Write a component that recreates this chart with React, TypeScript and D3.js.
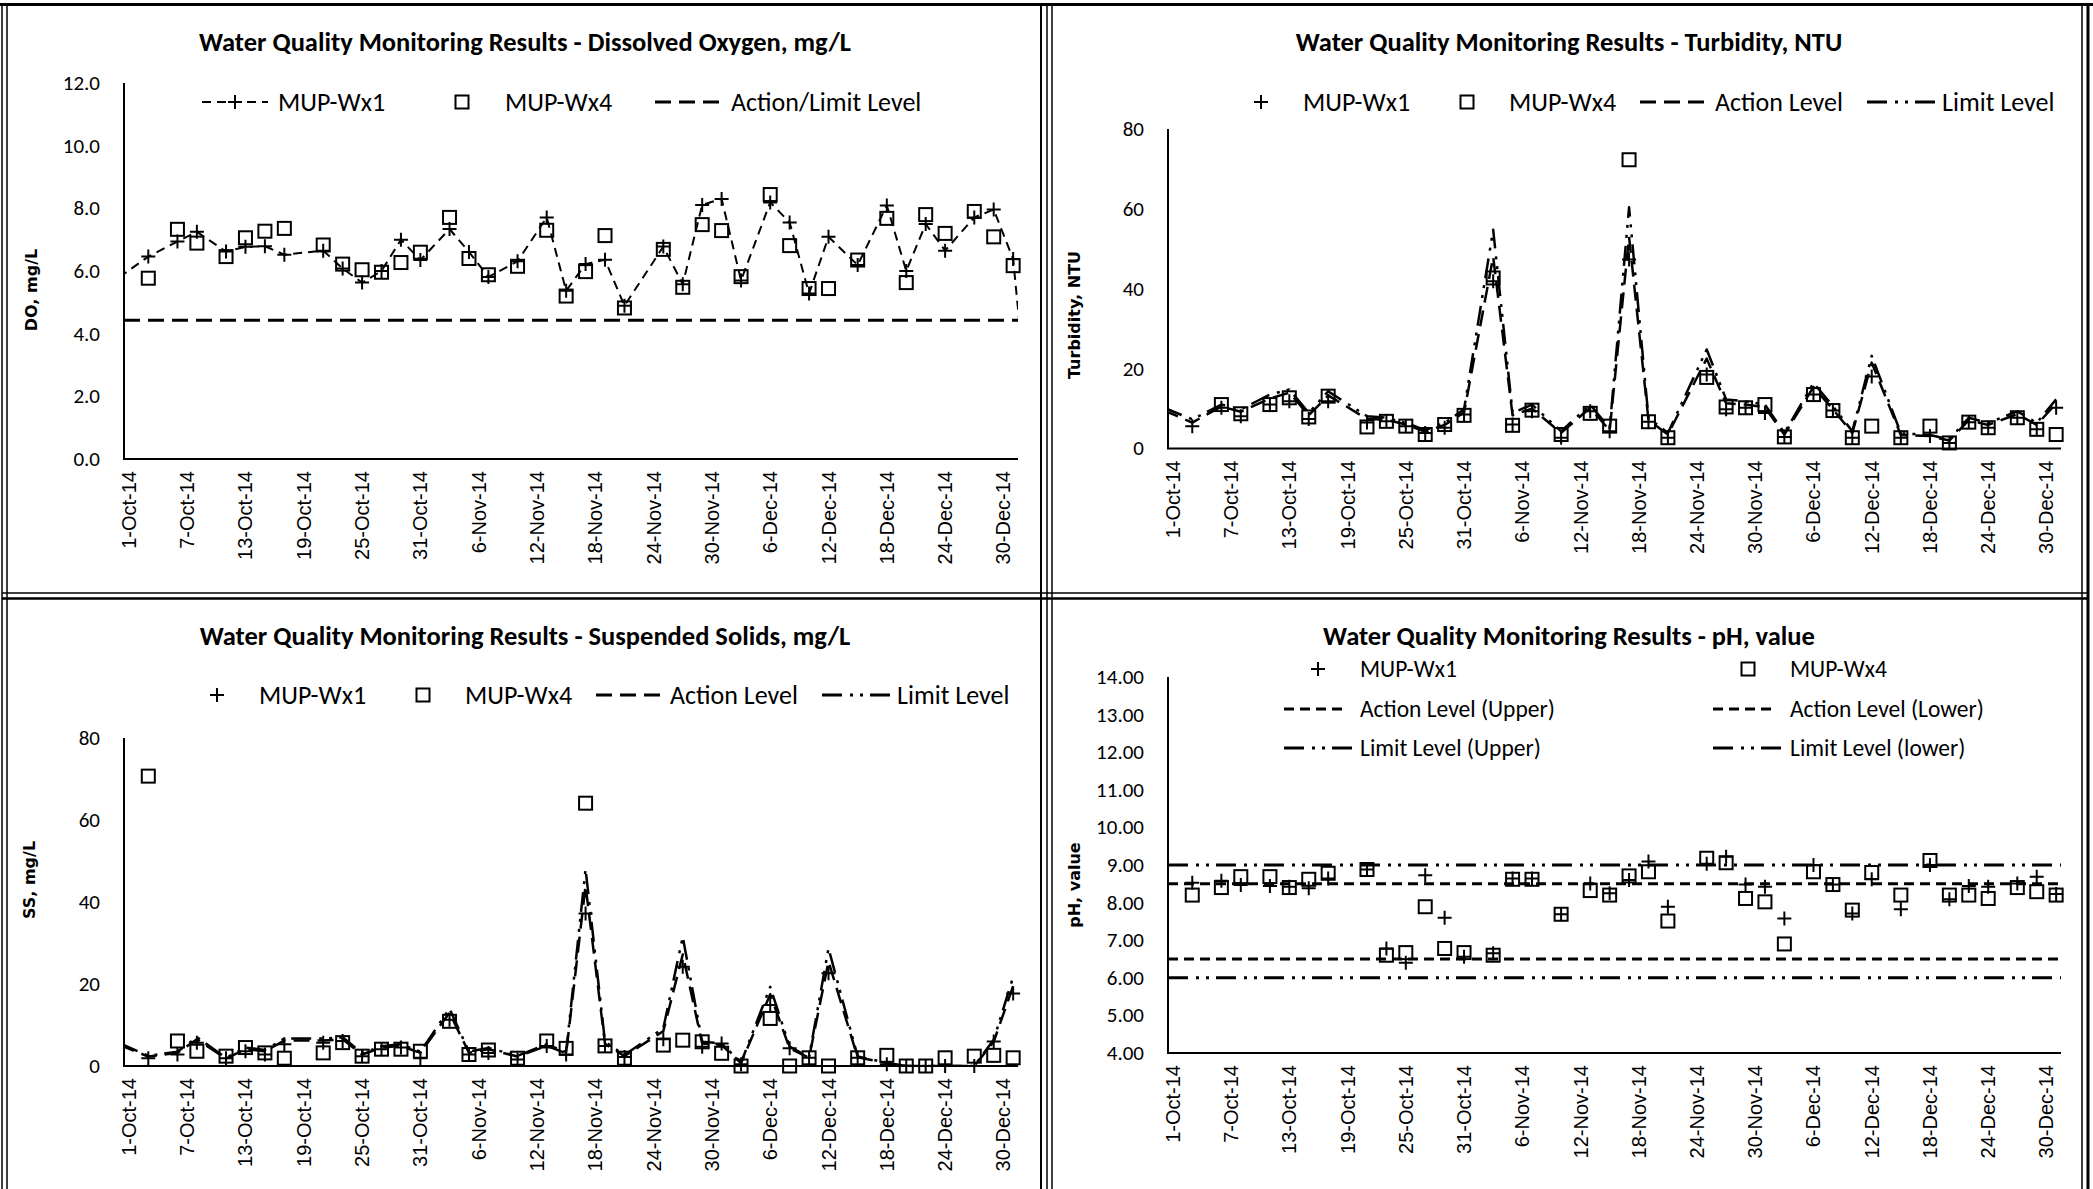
import React from 'react';
import * as d3 from 'd3';

// sampling days, three times a week, Oct - Dec 2014
const sampleDates = [
  '2014-10-03', '2014-10-06', '2014-10-08', '2014-10-11', '2014-10-13', '2014-10-15', '2014-10-17',
  '2014-10-21', '2014-10-23', '2014-10-25', '2014-10-27', '2014-10-29', '2014-10-31',
  '2014-11-03', '2014-11-05', '2014-11-07', '2014-11-10', '2014-11-13', '2014-11-15', '2014-11-17',
  '2014-11-19', '2014-11-21', '2014-11-25', '2014-11-27', '2014-11-29',
  '2014-12-01', '2014-12-03', '2014-12-06', '2014-12-08', '2014-12-10', '2014-12-12', '2014-12-15',
  '2014-12-18', '2014-12-20', '2014-12-22', '2014-12-24', '2014-12-27', '2014-12-29', '2014-12-31'
];
// the level series and the DO line also hold readings just outside the axis range
const levelDates = ['2014-09-30', ...sampleDates];
const doLineDates = ['2014-09-30', ...sampleDates, '2015-01-01'];

const xTickLabels = [
  '1-Oct-14', '7-Oct-14', '13-Oct-14', '19-Oct-14', '25-Oct-14', '31-Oct-14', '6-Nov-14', '12-Nov-14',
  '18-Nov-14', '24-Nov-14', '30-Nov-14', '6-Dec-14', '12-Dec-14', '18-Dec-14', '24-Dec-14', '30-Dec-14'
];

// Dissolved oxygen, mg/L
const doTicks = ['0.0', '2.0', '4.0', '6.0', '8.0', '10.0', '12.0'];
const doWx1 = [5.8,
  6.46, 6.94, 7.25, 6.62, 6.77, 6.79, 6.52, 6.65, 6.08, 5.63, 6.0, 7.0, 6.35,
  7.34, 6.61, 5.81, 6.31, 7.71, 5.37, 6.22, 6.36, 4.89, 6.78, 5.58, 8.11,
  8.3, 5.7, 8.19, 7.55, 5.28, 7.09, 6.19, 8.09, 6.0, 7.5, 6.65, 7.71, 7.96, 6.38,
  3.2];
const doWx4 = [
  5.77, 7.33, 6.89, 6.46, 7.06, 7.27, 7.36, 6.83, 6.22, 6.04, 5.96, 6.27, 6.6,
  7.71, 6.4, 5.88, 6.15, 7.3, 5.2, 5.98, 7.13, 4.82, 6.69, 5.48, 7.48,
  7.29, 5.82, 8.44, 6.81, 5.44, 5.44, 6.35, 7.68, 5.63, 7.8, 7.2, 7.9, 7.09, 6.17];
const doActionLimit = 4.43;

// Turbidity, NTU
const turbTicks = ['0', '20', '40', '60', '80'];
const turbWx1 = [
  5.6, 10.2, 8.1, 11.0, 11.8, 7.4, 11.8, 6.5, 6.8, 5.6, 3.9, 5.2, 8.5,
  41.9, 6.0, 9.3, 2.7, 9.3, 4.3, 47.3, 6.7, 2.7, 18.5, 9.8, 10.2,
  8.9, 2.9, 13.5, 9.5, 2.7, 18.0, 2.7, 3.1, 1.4, 6.6, 5.2, 7.7, 4.8, 10.2];
const turbWx4 = [
  null, 11.0, 8.7, 11.0, 12.7, 7.9, 13.1, 5.4, 6.8, 5.6, 3.5, 6.0, 8.3,
  42.7, 5.8, 9.6, 3.5, 8.8, 5.6, 72.3, 6.7, 2.7, 17.8, 10.4, 10.2,
  11.0, 2.9, 13.5, 9.5, 2.7, 5.6, 2.7, 5.6, 1.4, 6.6, 5.2, 7.7, 4.8, 3.5];
const turbAction = [9.6,
  6.5, 10.5, 9.2, 12.5, 14.0, 8.3, 13.3, 7.4, 7.2, 6.0, 4.2, 5.9, 9.0,
  48.0, 8.3, 10.0, 3.9, 10.2, 4.5, 53.0, 7.1, 3.5, 22.5, 11.3, 11.0,
  10.3, 3.5, 15.4, 9.8, 3.9, 21.5, 3.4, 3.1, 2.0, 7.1, 5.9, 8.6, 5.9, 11.3];
const turbLimit = [10.3,
  7.3, 11.0, 9.8, 13.5, 14.8, 8.9, 14.3, 8.1, 7.7, 6.4, 4.6, 6.4, 9.8,
  54.8, 8.9, 11.0, 4.3, 11.0, 5.0, 60.4, 7.7, 3.9, 24.8, 12.3, 11.8,
  11.0, 3.9, 16.4, 10.6, 4.3, 23.2, 3.8, 3.4, 2.3, 7.7, 6.4, 9.3, 6.4, 12.3];

// Suspended solids, mg/L
const ssTicks = ['0', '20', '40', '60', '80'];
const ssWx1 = [
  1.9, 2.8, 5.7, 1.9, 3.6, 2.8, 5.3, 5.7, 6.1, 2.4, 4.1, 4.5, 1.9,
  11.3, 2.8, 3.2, 1.6, 4.9, 2.8, 37.2, 4.9, 2.2, 6.5, 24.2, 4.7,
  5.5, 0.4, 14.9, 4.3, 2.0, 22.6, 2.0, 0.4, 0, 0, 0, 0, 6.0, 17.7];
const ssWx4 = [
  70.7, 6.1, 3.6, 2.4, 4.5, 3.2, 1.9, 3.2, 5.7, 2.4, 4.1, 4.1, 3.6,
  10.9, 2.8, 3.9, 1.9, 6.1, 4.3, 64.1, 4.9, 1.9, 5.1, 6.3, 5.9,
  3.1, 0, 11.6, 0, 2.0, 0, 2.0, 2.6, 0, 0, 2.0, 2.4, 2.6, 2.0];
const ssAction = [5.2,
  2.3, 3.2, 6.5, 1.8, 4.1, 3.6, 6.2, 6.2, 6.5, 2.8, 4.5, 4.9, 3.2,
  13.0, 3.2, 4.1, 2.3, 4.9, 3.1, 44.0, 5.4, 2.4, 8.5, 27.2, 5.5,
  5.1, 0.7, 17.5, 4.3, 2.0, 25.5, 2.1, 0.7, 0, 0, 0, 0, 5.9, 19.5];
const ssLimit = [5.6,
  2.5, 3.5, 7.0, 2.0, 4.5, 3.9, 6.7, 6.7, 7.0, 3.1, 4.8, 5.3, 3.5,
  14.0, 3.5, 4.4, 2.5, 5.3, 3.4, 48.0, 5.9, 2.7, 9.2, 31.5, 5.9,
  5.5, 0.8, 19.3, 4.7, 2.2, 28.7, 2.3, 0.8, 0, 0, 0, 0, 6.4, 21.7];

// pH
const phTicks = ['4.00', '5.00', '6.00', '7.00', '8.00', '9.00', '10.00', '11.00', '12.00', '13.00', '14.00'];
const phWx1 = [
  8.53, 8.58, 8.47, 8.44, 8.42, 8.38, 8.64, 8.88, 6.78, 6.4, 8.73, 7.6, 6.56,
  6.65, 8.64, 8.64, 7.69, 8.51, 8.25, 8.6, 9.09, 7.89, 9.03, 9.22, 8.48,
  8.42, 7.58, 9.0, 8.48, 7.71, 8.62, 7.82, 9.0, 8.09, 8.44, 8.42, 8.51, 8.69, 8.23];
const phWx4 = [
  8.2, 8.4, 8.69, 8.69, 8.4, 8.62, 8.78, 8.88, 6.6, 6.67, 7.89, 6.78, 6.67,
  6.6, 8.62, 8.62, 7.69, 8.32, 8.2, 8.71, 8.82, 7.51, 9.18, 9.06, 8.11,
  8.02, 6.9, 8.82, 8.48, 7.8, 8.8, 8.2, 9.12, 8.2, 8.2, 8.11, 8.4, 8.29, 8.2];
const phActionUpper = 8.5;
const phActionLower = 6.5;
const phLimitUpper = 9.0;
const phLimitLower = 6.0;

const MAIN_FONT = 'Carlito, Calibri, Lato, sans-serif';
const DATE_FONT = '"Liberation Sans", Arial, sans-serif';
const AXIS_TITLE_FONT = 'Verdana, "DejaVu Sans", sans-serif';

const DASH_SHORT = '9,6';
const DASH_LONG = '16,8';
const DASH_PH = '10,6';
const DASH_DOT_DOT = '20,8,3,7,3,7';

const parseDay = d3.timeParse('%Y-%m-%d');
const parseTick = d3.timeParse('%d-%b-%y');
const axisStart = parseDay('2014-10-01') as Date;
const axisEnd = parseDay('2015-01-01') as Date;
const noon = (d: Date) => d3.timeHour.offset(d, 12);

type Series = {
  dates: string[];
  values: (number | null)[];
  marker?: 'plus' | 'square';
  dash?: string;
  width?: number;
};
type Level = { value: number; dash: string; width: number };
type LegendItem = {
  kind: 'plus' | 'square' | 'line' | 'linePlus';
  label: string;
  y: number;
  textX: number;
  cx?: number;
  x1?: number;
  x2?: number;
  dash?: string;
  width?: number;
};
type PanelCfg = {
  id: string;
  title: string;
  titleX: number;
  titleY: number;
  yTitle: string;
  yTitleX: number;
  yTitleY: number;
  left: number;
  right: number;
  top: number;
  bottom: number;
  yDomain: [number, number];
  yTicks: string[];
  series: Series[];
  levels: Level[];
  legend: LegendItem[];
  legendSize: number;
};

function Marker({ kind, x, y }: { kind: 'plus' | 'square'; x: number; y: number }) {
  if (kind === 'plus') {
    return <path d={`M${x - 7},${y}H${x + 7}M${x},${y - 7}V${y + 7}`} stroke="#000" strokeWidth={2} fill="none" />;
  }
  return <rect x={x - 6.5} y={y - 6.5} width={13} height={13} fill="none" stroke="#000" strokeWidth={2} />;
}

function Panel({ c }: { c: PanelCfg }) {
  const x = d3.scaleTime().domain([axisStart, axisEnd]).range([c.left, c.right]);
  const y = d3.scaleLinear().domain(c.yDomain).range([c.bottom, c.top]);
  const line = d3.line<{ d: Date; v: number | null }>()
    .defined(p => p.v != null)
    .x(p => x(noon(p.d)))
    .y(p => y(p.v as number));
  const clipId = `clip-${c.id}`;

  return (
    <g>
      <defs>
        <clipPath id={clipId}>
          <rect x={c.left} y={c.top - 40} width={c.right - c.left} height={c.bottom - c.top + 40} />
        </clipPath>
      </defs>

      <text x={c.titleX} y={c.titleY} textAnchor="middle" fontFamily={MAIN_FONT} fontWeight="bold" fontSize={26.5}>
        {c.title}
      </text>

      <text
        transform={`translate(${c.yTitleX},${c.yTitleY}) rotate(-90)`}
        textAnchor="middle"
        dy="0.36em"
        fontFamily={AXIS_TITLE_FONT}
        fontWeight="bold"
        fontSize={16}
      >
        {c.yTitle}
      </text>

      {c.yTicks.map(t => (
        <text key={t} x={c.left - 24} y={y(+t)} dy="0.33em" textAnchor="end" fontFamily={MAIN_FONT} fontSize={21}>
          {t}
        </text>
      ))}

      {xTickLabels.map(t => {
        const px = x(noon(parseTick(t) as Date));
        return (
          <text
            key={t}
            transform={`translate(${px + 7},${c.bottom + 12}) rotate(-90)`}
            textAnchor="end"
            fontFamily={DATE_FONT}
            fontSize={20}
          >
            {t}
          </text>
        );
      })}

      <g clipPath={`url(#${clipId})`}>
        {c.levels.map((l, i) => (
          <line key={i} x1={c.left} x2={c.right} y1={y(l.value)} y2={y(l.value)}
            stroke="#000" strokeWidth={l.width} strokeDasharray={l.dash} />
        ))}
        {c.series.filter(s => s.dash).map((s, i) => (
          <path
            key={i}
            d={line(s.dates.map((d, j) => ({ d: parseDay(d) as Date, v: s.values[j] }))) || ''}
            fill="none"
            stroke="#000"
            strokeWidth={s.width}
            strokeDasharray={s.dash}
            strokeLinejoin="round"
          />
        ))}
      </g>

      {c.series.filter(s => s.marker).map((s, i) => (
        <g key={i}>
          {s.dates.map((ds, j) => {
            const d = parseDay(ds) as Date;
            const v = s.values[j];
            if (v == null || d < axisStart || d >= axisEnd) return null;
            return <Marker key={ds} kind={s.marker as 'plus' | 'square'} x={x(noon(d))} y={y(v)} />;
          })}
        </g>
      ))}

      <line x1={c.left} x2={c.left} y1={c.top} y2={c.bottom} stroke="#000" strokeWidth={2} />
      <line x1={c.left - 1} x2={c.right} y1={c.bottom} y2={c.bottom} stroke="#000" strokeWidth={2} />

      {c.legend.map((it, i) => (
        <g key={i}>
          {(it.kind === 'line' || it.kind === 'linePlus') && (
            <line x1={it.x1} x2={it.x2} y1={it.y} y2={it.y} stroke="#000" strokeWidth={it.width} strokeDasharray={it.dash} />
          )}
          {(it.kind === 'plus' || it.kind === 'linePlus') && <Marker kind="plus" x={it.cx as number} y={it.y} />}
          {it.kind === 'square' && <Marker kind="square" x={it.cx as number} y={it.y} />}
          <text x={it.textX} y={it.y} dy="0.33em" fontFamily={MAIN_FONT} fontSize={c.legendSize}>
            {it.label}
          </text>
        </g>
      ))}
    </g>
  );
}

const panels: PanelCfg[] = [
  {
    id: 'do',
    title: 'Water Quality Monitoring Results - Dissolved Oxygen, mg/L',
    titleX: 525, titleY: 51,
    yTitle: 'DO, mg/L', yTitleX: 31, yTitleY: 290,
    left: 124, right: 1018, top: 83, bottom: 459,
    yDomain: [0, 12], yTicks: doTicks,
    series: [
      { dates: doLineDates, values: doWx1, marker: 'plus', dash: DASH_SHORT, width: 2 },
      { dates: sampleDates, values: doWx4, marker: 'square' }
    ],
    levels: [{ value: doActionLimit, dash: DASH_LONG, width: 3 }],
    legendSize: 26,
    legend: [
      { kind: 'linePlus', label: 'MUP-Wx1', y: 102, x1: 202, x2: 268, cx: 235, textX: 278, dash: DASH_SHORT, width: 2 },
      { kind: 'square', label: 'MUP-Wx4', y: 102, cx: 462, textX: 505 },
      { kind: 'line', label: 'Action/Limit Level', y: 102, x1: 655, x2: 725, textX: 731, dash: DASH_LONG, width: 3 }
    ]
  },
  {
    id: 'turb',
    title: 'Water Quality Monitoring Results - Turbidity, NTU',
    titleX: 1569, titleY: 51,
    yTitle: 'Turbidity, NTU', yTitleX: 1074, yTitleY: 315,
    left: 1168, right: 2061, top: 129, bottom: 448.5,
    yDomain: [0, 80], yTicks: turbTicks,
    series: [
      { dates: sampleDates, values: turbWx1, marker: 'plus' },
      { dates: sampleDates, values: turbWx4, marker: 'square' },
      { dates: levelDates, values: turbAction, dash: DASH_LONG, width: 2.5 },
      { dates: levelDates, values: turbLimit, dash: DASH_DOT_DOT, width: 2.5 }
    ],
    levels: [],
    legendSize: 26,
    legend: [
      { kind: 'plus', label: 'MUP-Wx1', y: 102, cx: 1261, textX: 1303 },
      { kind: 'square', label: 'MUP-Wx4', y: 102, cx: 1467, textX: 1509 },
      { kind: 'line', label: 'Action Level', y: 102, x1: 1640, x2: 1710, textX: 1715, dash: DASH_LONG, width: 3 },
      { kind: 'line', label: 'Limit Level', y: 102, x1: 1867, x2: 1935, textX: 1942, dash: DASH_DOT_DOT, width: 3 }
    ]
  },
  {
    id: 'ss',
    title: 'Water Quality Monitoring Results - Suspended Solids, mg/L',
    titleX: 525, titleY: 645,
    yTitle: 'SS, mg/L', yTitleX: 29, yTitleY: 880,
    left: 124, right: 1018, top: 738, bottom: 1066,
    yDomain: [0, 80], yTicks: ssTicks,
    series: [
      { dates: sampleDates, values: ssWx1, marker: 'plus' },
      { dates: sampleDates, values: ssWx4, marker: 'square' },
      { dates: levelDates, values: ssAction, dash: DASH_LONG, width: 2.5 },
      { dates: levelDates, values: ssLimit, dash: DASH_DOT_DOT, width: 2.5 }
    ],
    levels: [],
    legendSize: 26,
    legend: [
      { kind: 'plus', label: 'MUP-Wx1', y: 695, cx: 217, textX: 259 },
      { kind: 'square', label: 'MUP-Wx4', y: 695, cx: 423, textX: 465 },
      { kind: 'line', label: 'Action Level', y: 695, x1: 596, x2: 663, textX: 670, dash: DASH_LONG, width: 3 },
      { kind: 'line', label: 'Limit Level', y: 695, x1: 822, x2: 891, textX: 897, dash: DASH_DOT_DOT, width: 3 }
    ]
  },
  {
    id: 'ph',
    title: 'Water Quality Monitoring Results - pH, value',
    titleX: 1569, titleY: 645,
    yTitle: 'pH, value', yTitleX: 1074, yTitleY: 885,
    left: 1168, right: 2061, top: 677, bottom: 1053,
    yDomain: [4, 14], yTicks: phTicks,
    series: [
      { dates: sampleDates, values: phWx1, marker: 'plus' },
      { dates: sampleDates, values: phWx4, marker: 'square' }
    ],
    levels: [
      { value: phActionUpper, dash: DASH_PH, width: 3 },
      { value: phActionLower, dash: DASH_PH, width: 3 },
      { value: phLimitUpper, dash: DASH_DOT_DOT, width: 3 },
      { value: phLimitLower, dash: DASH_DOT_DOT, width: 3 }
    ],
    legendSize: 23.5,
    legend: [
      { kind: 'plus', label: 'MUP-Wx1', y: 669, cx: 1318, textX: 1360 },
      { kind: 'square', label: 'MUP-Wx4', y: 669, cx: 1748, textX: 1790 },
      { kind: 'line', label: 'Action Level (Upper)', y: 709, x1: 1284, x2: 1347, textX: 1360, dash: DASH_PH, width: 3 },
      { kind: 'line', label: 'Action Level (Lower)', y: 709, x1: 1713, x2: 1777, textX: 1790, dash: DASH_PH, width: 3 },
      { kind: 'line', label: 'Limit Level (Upper)', y: 748, x1: 1284, x2: 1352, textX: 1360, dash: DASH_DOT_DOT, width: 3 },
      { kind: 'line', label: 'Limit Level (lower)', y: 748, x1: 1713, x2: 1783, textX: 1790, dash: DASH_DOT_DOT, width: 3 }
    ]
  }
];

// table borders around the four charts
function Frame() {
  const W = 2093;
  const H = 1189;
  return (
    <g stroke="#000" fill="none">
      <line x1={0} x2={W} y1={4.5} y2={4.5} strokeWidth={3} />
      <line x1={2} x2={2} y1={3} y2={H} strokeWidth={1.5} />
      <line x1={7} x2={7} y1={6} y2={H} strokeWidth={1.5} />
      <line x1={1041} x2={1041} y1={6} y2={H} strokeWidth={2} />
      <line x1={1047} x2={1047} y1={6} y2={H} strokeWidth={1.5} />
      <line x1={1052} x2={1052} y1={6} y2={H} strokeWidth={1.5} />
      <line x1={2082} x2={2082} y1={6} y2={H} strokeWidth={1.5} />
      <line x1={2088} x2={2088} y1={3} y2={H} strokeWidth={3} />
      <line x1={2} x2={2088} y1={593} y2={593} strokeWidth={1.5} />
      <line x1={2} x2={2088} y1={598.5} y2={598.5} strokeWidth={2.5} />
    </g>
  );
}

export default function App() {
  return (
    <svg
      width={2093}
      height={1189}
      viewBox="0 0 2093 1189"
      style={{ position: 'absolute', left: 0, top: 0, display: 'block', background: '#fff' }}
    >
      <rect width={2093} height={1189} fill="#fff" />
      <Frame />
      {panels.map(p => <Panel key={p.id} c={p} />)}
    </svg>
  );
}
